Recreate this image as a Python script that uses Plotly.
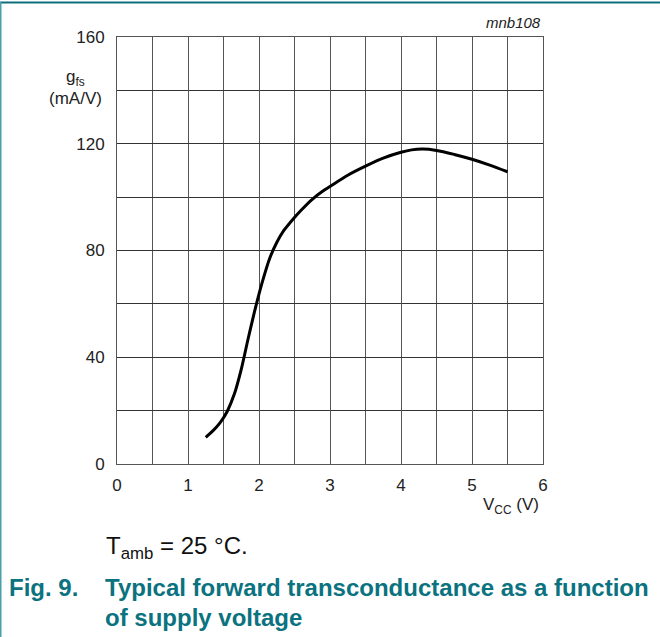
import plotly.graph_objects as go

vcc = [1.25, 1.35, 1.45, 1.55, 1.65, 1.75, 1.85, 1.95, 2.05, 2.15, 2.25, 2.35, 2.5, 2.6,
       2.75, 2.9, 3.0, 3.25, 3.5, 3.75, 4.0, 4.15, 4.3, 4.5, 4.75, 5.0, 5.25, 5.5]
gfs = [10, 12.4, 15.4, 19.6, 26, 35.5, 47.3, 58.5, 68.5, 77, 83, 87.5, 92.4, 95.3,
       99.2, 102.3, 104, 108.2, 111.6, 114.6, 116.8, 117.7, 118, 117.5, 116, 114.2, 112, 109.5]

x_ticks = [0, 1, 2, 3, 4, 5, 6]
y_ticks = [0, 40, 80, 120, 160]

FONT = "Liberation Sans, Arial, sans-serif"
TEAL = "#0b7280"

fig = go.Figure()
fig.add_trace(go.Scatter(x=vcc, y=gfs, mode="lines",
                         line=dict(color="black", width=3, shape="spline", smoothing=0.8),
                         showlegend=False, hoverinfo="skip"))

fig.update_xaxes(range=[0, 6], tickvals=x_ticks, ticktext=[str(v) for v in x_ticks],
                 showgrid=True, gridcolor="#555", gridwidth=1,
                 minor=dict(dtick=0.5, showgrid=True, gridcolor="#555", gridwidth=1),
                 showline=True, linecolor="#555", linewidth=1, mirror=True,
                 zeroline=False, ticks="", ticklabelstandoff=6,
                 tickfont=dict(family=FONT, size=17, color="#222"))
fig.update_yaxes(range=[0, 160], tickvals=y_ticks, ticktext=[str(v) for v in y_ticks],
                 showgrid=True, gridcolor="#333", gridwidth=1,
                 minor=dict(dtick=20, showgrid=True, gridcolor="#333", gridwidth=1),
                 showline=True, linecolor="#555", linewidth=1, mirror=True,
                 zeroline=False, ticks="", ticklabelstandoff=8,
                 tickfont=dict(family=FONT, size=17, color="#222"))

def px_x(p):
    return (p - 117) / 426.0

def px_y(p):
    return (464 - p) / 427.0

annotations = [
    dict(text="g<sub>fs</sub><br>(mA/V)", x=px_x(104), y=px_y(87), xanchor="right", yanchor="middle",
         align="center", font=dict(family=FONT, size=17, color="#222")),
    dict(text="V<sub>CC</sub> (V)", x=px_x(541), y=px_y(506), xanchor="right", yanchor="middle",
         font=dict(family=FONT, size=17, color="#222")),
    dict(text="<i>mnb108</i>", x=px_x(543), y=px_y(23), xanchor="right", yanchor="middle",
         font=dict(family=FONT, size=15, color="#222")),
    dict(text="T<sub>amb</sub> = 25 °C.", x=px_x(104), y=px_y(547), xanchor="left", yanchor="middle",
         font=dict(family=FONT, size=24, color="#111")),
    dict(text="<b>Fig. 9.</b>", x=px_x(7), y=px_y(587), xanchor="left", yanchor="middle",
         font=dict(family=FONT, size=24, color=TEAL)),
    dict(text="<b>Typical forward transconductance as a function</b>", x=px_x(103), y=px_y(587),
         xanchor="left", yanchor="middle", font=dict(family=FONT, size=24, color=TEAL)),
    dict(text="<b>of supply voltage</b>", x=px_x(103), y=px_y(617),
         xanchor="left", yanchor="middle", font=dict(family=FONT, size=24, color=TEAL)),
]
for a in annotations:
    a.update(xref="paper", yref="paper", showarrow=False)

shapes = [
    dict(type="line", xref="paper", yref="paper", x0=px_x(0), x1=px_x(660), y0=px_y(2.5), y1=px_y(2.5),
         line=dict(color="#0b6e7a", width=2)),
    dict(type="line", xref="paper", yref="paper", x0=px_x(0.5), x1=px_x(0.5), y0=px_y(2), y1=px_y(640),
         line=dict(color="#4a9fab", width=2)),
]

fig.update_layout(width=660, height=637, margin=dict(l=117, r=117, t=37, b=173),
                  paper_bgcolor="white", plot_bgcolor="white",
                  annotations=annotations, shapes=shapes)

fig.write_html("out.html", config={"displayModeBar": False},
               post_script="document.body.style.margin='0';document.body.style.overflow='hidden';")
